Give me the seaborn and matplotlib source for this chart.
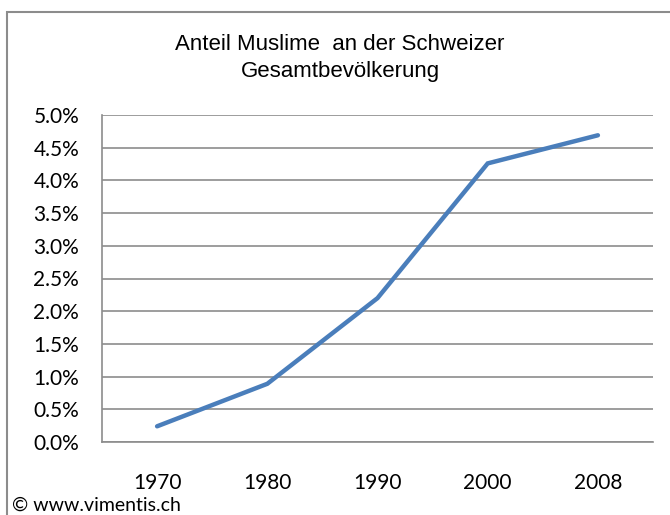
import matplotlib
matplotlib.use("Agg")
import matplotlib.pyplot as plt
import matplotlib.patches as mpatches
from matplotlib.ticker import FuncFormatter
import seaborn as sns
import pandas as pd

# --- datos ---
jahre = ["1970", "1980", "1990", "2000", "2008"]
anteil = [0.24, 0.89, 2.20, 4.26, 4.69]

df = pd.DataFrame({"jahr": jahre, "anteil": anteil})

sns.set_style("white")

fig = plt.figure(figsize=(6.7, 5.15), dpi=100)
ax = fig.add_axes([102 / 670, 1 - 442 / 515, 551 / 670, 327 / 515])

sns.lineplot(data=df, x="jahr", y="anteil", ax=ax, color="#4A7EBB",
             linewidth=3.2, solid_capstyle="round", solid_joinstyle="miter")

ax.set_xlim(-0.5, 4.5)
ax.set_ylim(0, 5)
ax.set_yticks([i * 0.5 for i in range(11)])
ax.yaxis.set_major_formatter(FuncFormatter(lambda v, p: f"{v:.1f}%"))
ax.grid(axis="y", color="#8c8c8c", linewidth=1.2)
ax.set_axisbelow(True)
ax.set_xlabel("")
ax.set_ylabel("")

for s in ["top", "right"]:
    ax.spines[s].set_visible(False)
for s in ["left", "bottom"]:
    ax.spines[s].set_color("#8c8c8c")
    ax.spines[s].set_linewidth(1.2)

ax.tick_params(axis="both", length=0, labelsize=15, colors="black")
ax.tick_params(axis="y", pad=16.5)
ax.tick_params(axis="x", pad=22)
for lab in ax.get_xticklabels() + ax.get_yticklabels():
    lab.set_fontfamily("Lato")

# Rahmen
fig.patches.append(mpatches.Rectangle((7 / 670, -0.1), 1.0, 1 - 12 / 515 + 0.1,
                                      transform=fig.transFigure, fill=False,
                                      edgecolor="#8c8c8c", linewidth=1.5))

fig.text(340 / 670, 1 - 45 / 515, "Anteil Muslime  an der Schweizer",
         ha="center", va="center", fontsize=16, color="black",
         family="Liberation Sans")
fig.text(340 / 670, 1 - 72 / 515, "Gesamtbevölkerung",
         ha="center", va="center", fontsize=16, color="black",
         family="Liberation Sans")
fig.text(12 / 670, 1 - 511 / 515, "© www.vimentis.ch", ha="left",
         va="baseline", fontsize=14, color="black", family="Lato")

fig.savefig("out.png", dpi=100)
